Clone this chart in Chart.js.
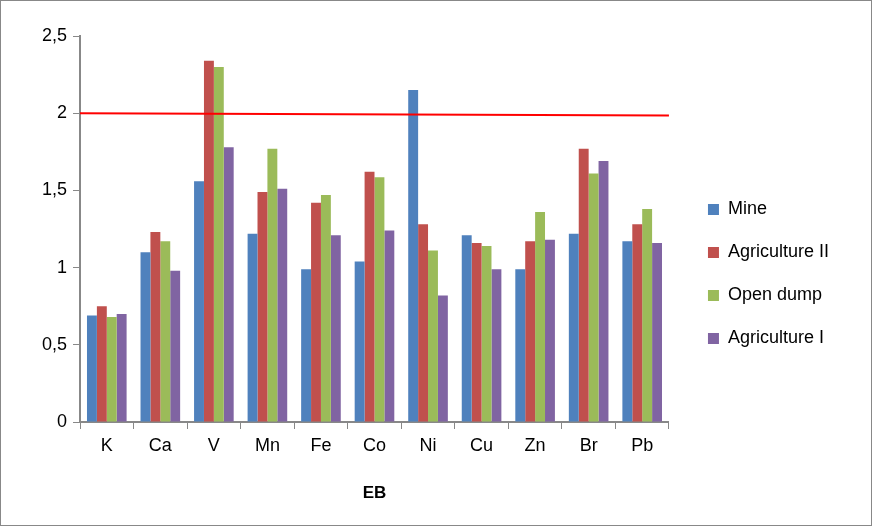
<!DOCTYPE html>
<html>
<head>
<meta charset="utf-8">
<script src="https://cdn.jsdelivr.net/npm/chart.js@4"></script>
<style>
  body { margin: 0; background: #fff; }
  #wrap { position: relative; width: 870px; height: 524px; border: 1px solid #888; }
</style>
</head>
<body>
<div id="wrap"><canvas id="myChart"></canvas></div>
<script>
const categories = ['K', 'Ca', 'V', 'Mn', 'Fe', 'Co', 'Ni', 'Cu', 'Zn', 'Br', 'Pb'];
const mine = [0.69, 1.10, 1.56, 1.22, 0.99, 1.04, 2.15, 1.21, 0.99, 1.22, 1.17];
const agricultureII = [0.75, 1.23, 2.34, 1.49, 1.42, 1.62, 1.28, 1.16, 1.17, 1.77, 1.28];
const openDump = [0.68, 1.17, 2.30, 1.77, 1.47, 1.585, 1.11, 1.14, 1.36, 1.61, 1.38];
const agricultureI = [0.70, 0.98, 1.78, 1.51, 1.21, 1.24, 0.82, 0.99, 1.18, 1.69, 1.16];
const limitLine = [2.0, 1.985]; // red line, left end and right end

const font = { family: 'Liberation Sans, Arial, sans-serif', size: 18 };

// red limit line across the plot area
const limitPlugin = {
    id: 'limit',
    afterInit(chart) {
        // leave a gap between the plot and the legend, nudge the legend items
        const legend = chart.legend;
        const fit = legend.fit;
        legend.fit = function () {
            fit.call(this);
            this.width += 38;
        };
        const draw = legend.draw;
        legend.draw = function () {
            const c = this.ctx;
            c.save();
            c.translate(14, 2);
            draw.call(this);
            c.restore();
        };
    },
    afterDatasetsDraw(chart) {
        const { ctx, chartArea, scales } = chart;
        ctx.save();
        ctx.strokeStyle = '#ff0000';
        ctx.lineWidth = 2;
        ctx.beginPath();
        ctx.moveTo(chartArea.left, scales.y.getPixelForValue(limitLine[0]));
        ctx.lineTo(chartArea.right, scales.y.getPixelForValue(limitLine[1]));
        ctx.stroke();
        ctx.restore();
    }
};

const ctx = document.getElementById('myChart').getContext('2d');
const bar = (label, data, color) => ({
    label: label, data: data, backgroundColor: color,
    borderWidth: 0, categoryPercentage: 0.74, barPercentage: 1.0
});

new Chart(ctx, {
    type: 'bar',
    data: {
        labels: categories,
        datasets: [
            bar('Mine', mine, '#4f81bd'),
            bar('Agriculture II', agricultureII, '#c0504d'),
            bar('Open dump', openDump, '#9bbb59'),
            bar('Agriculture I', agricultureI, '#8064a2')
        ]
    },
    plugins: [limitPlugin],
    options: {
        responsive: true,
        maintainAspectRatio: false,
        animation: false,
        layout: { padding: { left: 35, top: 35, right: 8, bottom: 17 } },
        plugins: {
            tooltip: { enabled: false },
            legend: {
                position: 'right',
                labels: { font: font, color: '#000', boxWidth: 11, boxHeight: 11, padding: 25 }
            }
        },
        scales: {
            x: {
                grid: { display: true, drawOnChartArea: false, offset: true, color: '#888', tickLength: 7 },
                border: { color: '#888', width: 2 },
                ticks: { font: font, color: '#000', padding: 6 },
                title: { display: true, text: 'EB', font: { family: font.family, size: 17, weight: 'bold' }, color: '#000', padding: { top: 21 } }
            },
            y: {
                min: 0, max: 2.5,
                grid: { display: true, drawOnChartArea: false, color: '#888', tickLength: 7 },
                border: { color: '#888', width: 2 },
                ticks: {
                    stepSize: 0.5, font: font, color: '#000', padding: 6,
                    callback: v => String(v).replace('.', ',')
                }
            }
        }
    }
});
</script>
</body>
</html>
